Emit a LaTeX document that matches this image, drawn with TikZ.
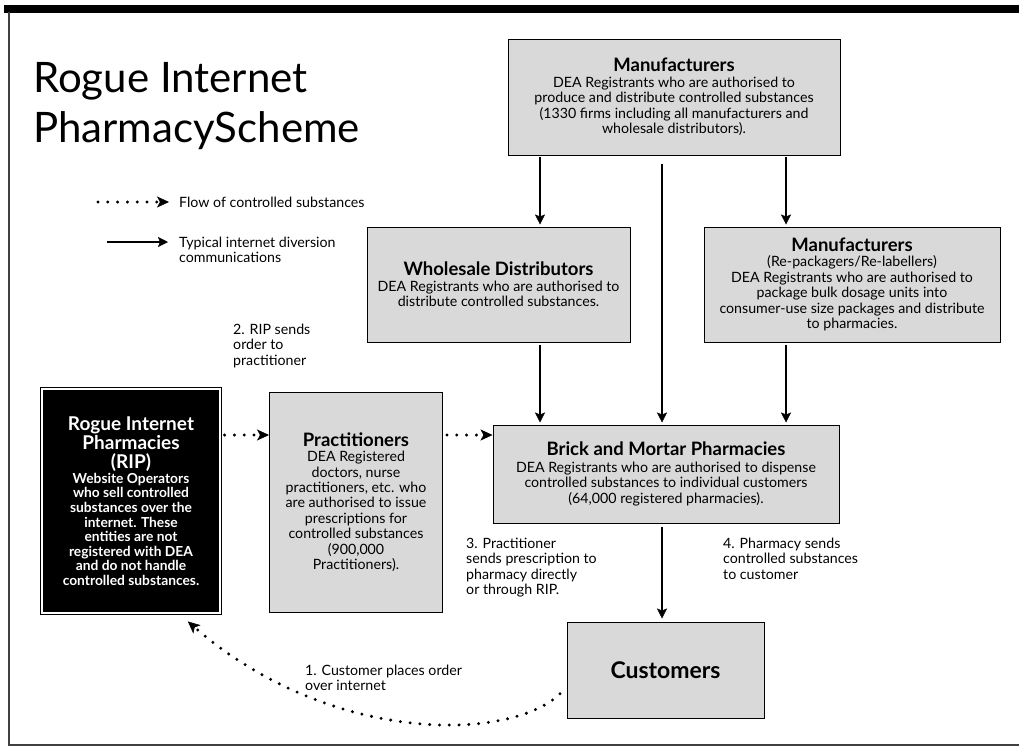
\documentclass[tikz,border=0pt]{standalone}
\usepackage{fontspec}
\setmainfont{Lato}
\usetikzlibrary{arrows.meta}
\definecolor{boxgray}{HTML}{D9D9D9}

\tikzset{
  box/.style={draw=black, fill=boxgray, line width=1pt, align=center, inner sep=2pt,
    font=\fontsize{14.2}{15.4}\selectfont},
  ripbox/.style={draw=black, line width=1.2pt, double=white, double distance=2pt, fill=black,
    text=white, align=center, inner sep=2pt, font=\bfseries\fontsize{13.8}{14.6}\selectfont},
  flow/.style={line width=2.2pt, -{Stealth[length=10pt,width=10pt,inset=2pt,line width=0.5pt]}},
  dotflow/.style={line width=3.3pt, line cap=round, dash pattern=on 0pt off 9.8pt,
    -{Stealth[length=12pt,width=11pt,inset=3pt,line width=0.5pt]}},
  note/.style={align=left, anchor=north west, inner sep=0pt, font=\fontsize{14.2}{15.2}\selectfont}
}
\newcommand{\boxtitle}[1]{{\bfseries\fontsize{18.5}{21}\selectfont #1}}
\newcommand{\riptitle}[1]{{\fontsize{19}{17}\selectfont #1}}

\begin{document}
\begin{tikzpicture}[x=1pt, y=-1pt]
  \useasboundingbox (0,0) rectangle (1019,747);
  % Frame
  \fill[black] (4,5) rectangle (1019,12.5);
  \draw[line width=2pt, black!75] (8.5,12) -- (8.5,745) -- (1019,745);

  % Title
  \node[anchor=north west, align=left, inner sep=0pt, font=\fontsize{42}{50}\selectfont] (title)
    at (33,62) {Rogue Internet\\PharmacyScheme};

  % Legend
  \coordinate (leg1) at (98,202);
  \coordinate (leg2) at (107,242);
  \node[note, anchor=west] (legflow) at (179,202) {Flow of controlled substances};
  \node[note] (legcomm) at (179,237) {Typical internet diversion\\communications};
  \draw[dotflow, shorten >=10pt] (leg1) -- (legflow.west);
  \draw[flow, shorten >=11pt] (leg2) -- (leg2 -| legcomm.west);
  % Boxes
  \node[box, minimum width=332pt, minimum height=116pt] (manu) at (674,97)
    {\boxtitle{Manufacturers}\\DEA Registrants who are authorised to\\
     produce and distribute controlled substances\\
     (1330 firms including all manufacturers and\\wholesale distributors).};
  \node[box, minimum width=263pt, minimum height=115pt] (whole) at (498.5,284.5)
    {\boxtitle{Wholesale Distributors}\\DEA Registrants who are authorised to\\
     distribute controlled substances.};
  \node[box, minimum width=296pt, minimum height=115pt] (repack) at (852,284.5)
    {\boxtitle{Manufacturers}\\(Re-packagers/Re-labellers)\\
     DEA Registrants who are authorised to\\package bulk dosage units into\\
     consumer-use size packages and distribute\\to pharmacies.};
  \node[box, minimum width=346pt, minimum height=98pt] (brick) at (666,474)
    {\boxtitle{Brick and Mortar Pharmacies}\\[1pt]DEA Registrants who are authorised to dispense\\
     controlled substances to individual customers\\(64,000 registered pharmacies).};
  \node[box, minimum width=173pt, minimum height=220pt] (prac) at (356,502)
    {\boxtitle{Practitioners}\\DEA Registered\\doctors, nurse\\practitioners, etc. who\\
     are authorised to issue\\prescriptions for\\controlled substances\\(900,000\\Practitioners).};
  \node[ripbox, minimum width=178pt, minimum height=224pt] (rip) at (131,501)
    {\riptitle{Rogue Internet}\\[1pt]\riptitle{Pharmacies}\\[3pt]\riptitle{(RIP)}\\Website Operators\\
     who sell controlled\\substances over the\\internet. These\\entities are not\\
     registered with DEA\\and do not handle\\controlled substances.};
  \node[box, minimum width=197pt, minimum height=96pt,
    font=\bfseries\fontsize{23}{26}\selectfont] (cust) at (665.5,670) {Customers};

  % Step notes
  \node[note] (step2) at (233,324) {2. RIP sends\\order to\\practitioner};
  \node[note] (step3) at (466,538) {3. Practitioner\\sends prescription to\\pharmacy directly\\or through RIP.};
  \node[note] (step4) at (723,538) {4. Pharmacy sends\\controlled substances\\to customer};
  \node[note] (step1) at (305,665) {1. Customer places order\\over internet};

  % Supply arrows
  \coordinate (colA) at (540,0);
  \coordinate (colB) at (662,0);
  \coordinate (colC) at (786,0);
  \draw[flow, shorten <=1pt, shorten >=2pt] (manu.south -| colA) -- (whole.north -| colA);
  \draw[flow, shorten <=8pt, shorten >=2pt] (manu.south -| colB) -- (brick.north -| colB);
  \draw[flow, shorten <=1pt, shorten >=2pt] (manu.south -| colC) -- (repack.north -| colC);
  \draw[flow, shorten <=2pt, shorten >=2pt] (whole.south -| colA) -- (brick.north -| colA);
  \draw[flow, shorten <=2pt, shorten >=2pt] (repack.south -| colC) -- (brick.north -| colC);
  \draw[flow, shorten <=3pt, shorten >=3pt] (brick.south -| colB) -- (cust.north -| colB);

  % Order flow
  \coordinate (rowD) at (0,435);
  \draw[dotflow, shorten <=4pt] (rip.east |- rowD) -- (prac.west |- rowD);
  \draw[dotflow, shorten <=4pt] (prac.east |- rowD) -- (brick.west |- rowD);
  \draw[dotflow, shorten <=9pt, shorten >=12pt] (cust.190) .. controls (510,742) and (330,745) .. (rip.-67);
\end{tikzpicture}
\end{document}
